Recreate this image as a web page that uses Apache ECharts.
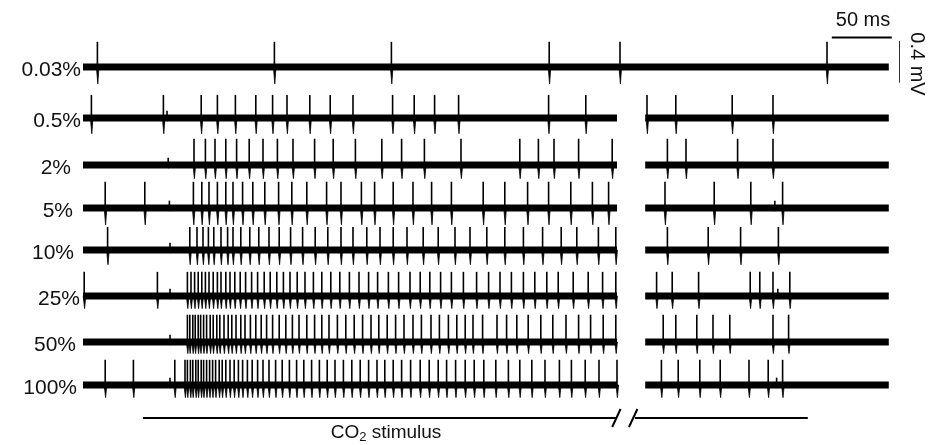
<!DOCTYPE html>
<html>
<head>
<meta charset="utf-8">
<script src="https://cdn.jsdelivr.net/npm/echarts@6/dist/echarts.min.js"></script>
<style>
  html, body { margin: 0; padding: 0; background: #fff; }
  #chart { width: 938px; height: 445px; }
</style>
</head>
<body>
<div id="chart"></div>
<script>
// CO2 concentration of each recording
const concentrations = ['0.03%', '0.5%', '2%', '5%', '10%', '25%', '50%', '100%'];

// Spike times (ms from start of sweep) for each concentration
const spikes_0_03 = [12, 159.5, 257, 388.5, 447.5, 620];
const spikes_0_5 = [7, 67, 98.5, 112, 127, 144, 158, 170, 189, 206, 225, 258, 276, 293, 313, 388, 419,
  470, 494, 541, 575];
const spikes_2 = [92.5, 102, 110, 119, 128, 138.5, 150, 162, 175, 193, 208.5, 227, 249, 265.5, 284.5, 315,
  364, 379.5, 392.5, 413, 441, 487, 502.5, 545.5, 575];
const spikes_5 = [18.5, 51.5, 92, 99, 105, 112, 119, 125, 133, 141.5, 151.5, 163, 174, 186.5, 203, 215, 232,
  243, 258.5, 275, 290.5, 307, 333.5, 351.5, 370.5, 388, 406.5, 424.5, 438, 485, 526, 556.5, 583];
const spikes_10 = [20.5, 89, 95, 100, 104.5, 109, 115, 120.5, 125, 131.5, 139, 146.5, 155, 163.5, 173, 183,
  193.5, 204, 215, 225, 236.5, 247.5, 258.5, 270, 283.5, 296, 310, 322.5, 336.5, 351.5, 367, 383, 398.5,
  411.5, 429.5, 444, 487, 521, 548, 579.5];
const spikes_25 = [1, 62, 87, 90, 93, 96, 99, 102, 105, 108.5, 112, 115, 119, 122.5, 126.5, 131, 135.5,
  140.5, 145.5, 151, 156, 161.5, 167, 172.5, 178.5, 185, 192, 199, 206.5, 214, 222, 230, 238, 245.5, 254.5,
  263, 272.5, 281, 289, 298, 307, 317, 328, 338, 347.5, 357, 367, 376.5, 386.5, 396, 408.5, 421, 433, 444,
  478, 491, 513, 556, 564, 575, 589];
const spikes_50 = [87, 89, 91.5, 93.5, 96, 98, 100.5, 103, 106, 108.5, 111.5, 114, 117.5, 121, 124, 127.5,
  131.5, 135, 139.5, 144, 148.5, 153, 158, 163.5, 169, 174.5, 180, 186.5, 193, 199, 205, 212, 219, 226, 233,
  240, 246.5, 253.5, 260.5, 267.5, 275, 282, 290, 297, 304.5, 311.5, 318.5, 325, 333, 345, 353, 361.5, 371,
  381.5, 391.5, 402.5, 413, 423, 433.5, 444, 483.5, 494, 511.5, 525, 539, 575, 588];
const spikes_100 = [18.5, 42, 76.5, 85, 87, 89.5, 91.5, 94, 96, 98.5, 100.5, 103, 105.5, 108, 110.5, 113.5,
  116, 119, 122.5, 126, 129.5, 133, 137, 141, 145.5, 150, 155, 160.5, 166, 172, 178, 184, 190.5, 197, 203.5,
  210, 217, 224, 231, 238, 245, 251.5, 258.5, 265.5, 273, 281, 288.5, 296, 303, 310.5, 318.5, 326, 334, 344,
  354.5, 364, 374, 385, 397, 407, 418.5, 430, 445, 482, 496, 514, 531, 555, 571, 583];
const spikeTimes = [spikes_0_03, spikes_0_5, spikes_2, spikes_5, spikes_10, spikes_25, spikes_50, spikes_100];

// Small (sub-threshold) deflections, ms
const smallDeflections = [[], [70], [71], [72, 576.5], [72.5], [72.5, 579], [72.5], [72.5, 578]];

// Typical spike amplitude above / below baseline for each recording, mV
const spikeUp = [0.24, 0.22, 0.25, 0.25, 0.22, 0.23, 0.26, 0.24];
const spikeDown = [0.16, 0.15, 0.13, 0.16, 0.14, 0.12, 0.11, 0.12];
const smallUp = 0.07;
const smallDown = 0.03;

// Recorded stretches of each sweep, ms (the others skip a stretch of the recording)
const fullSweep = [[0, 671.5]];
const splitSweep = [[0, 445], [468.5, 671.5]];
const sweeps = [fullSweep, splitSweep, splitSweep, splitSweep, splitSweep, splitSweep, splitSweep, splitSweep];

// CO2 stimulus bar, ms
const stimulusStart = 50;
const stimulusBreak = [441, 464];
const stimulusEnd = 604;

// Scale bars
const scaleTime = 50;   // ms
const scaleVolt = 0.4;  // mV

// ---- layout ----
const X0 = 83;            // px where t = 0
const PX_PER_MS = 1.2;
const PX_PER_MV = 105;
const T_MAX = 680;
const V_HALF = 0.3;
const rowCenters = [67, 118, 165, 208, 250, 296, 342, 385];
const labelRight = [81, 81, 71, 73, 74, 80, 76, 77];
const FONT = '"Liberation Sans", Arial, Helvetica, sans-serif';

const chart = echarts.init(document.getElementById('chart'), null, { renderer: 'canvas' });

const grids = [], xAxes = [], yAxes = [], series = [];
const plotW = T_MAX * PX_PER_MS;
const plotH = 2 * V_HALF * PX_PER_MV;

function spikeRender(params, api) {
  const t = api.value(0), up = api.value(1), dn = api.value(2);
  const top = api.coord([t, up]);
  const base = api.coord([t, 0]);
  const bot = api.coord([t, -dn]);
  return {
    type: 'group',
    children: [
      { type: 'line', shape: { x1: top[0], y1: top[1], x2: base[0], y2: base[1] },
        style: { stroke: '#000', lineWidth: 1.6 } },
      { type: 'polygon', shape: { points: [[base[0] - 1.0, base[1]], [base[0] + 1.6, base[1]], [bot[0] + 0.4, bot[1]]] },
        style: { fill: '#000', stroke: '#000', lineWidth: 0.8 } }
    ]
  };
}

concentrations.forEach((name, i) => {
  grids.push({ left: X0, top: rowCenters[i] - V_HALF * PX_PER_MV, width: plotW, height: plotH });
  xAxes.push({ gridIndex: i, type: 'value', min: 0, max: T_MAX, show: false });
  yAxes.push({ gridIndex: i, type: 'value', min: -V_HALF, max: V_HALF, show: false });

  sweeps[i].forEach(seg => {
    series.push({
      type: 'line', xAxisIndex: i, yAxisIndex: i, symbol: 'none', silent: true, clip: false,
      data: [[seg[0], 0], [seg[1], 0]],
      lineStyle: { color: '#000', width: 7, cap: 'butt' }
    });
  });

  const data = spikeTimes[i].map(t => [t, spikeUp[i], spikeDown[i]])
    .concat(smallDeflections[i].map(t => [t, smallUp, smallDown]));
  series.push({
    type: 'custom', xAxisIndex: i, yAxisIndex: i, silent: true, clip: false,
    renderItem: spikeRender, data: data
  });
});

// Scale bars drawn on the first sweep's axes
const barTop = 0.28;
series.push({
  type: 'line', xAxisIndex: 0, yAxisIndex: 0, symbol: 'none', silent: true, clip: false,
  data: [[624, barTop], [624 + scaleTime, barTop]],
  lineStyle: { color: '#000', width: 2, cap: 'butt' }
});
series.push({
  type: 'line', xAxisIndex: 0, yAxisIndex: 0, symbol: 'none', silent: true, clip: false,
  data: [[681, 0.25], [681, 0.25 - scaleVolt]],
  lineStyle: { color: '#000', width: 2, cap: 'butt' }
});

// Stimulus bar grid
const SI = concentrations.length;
grids.push({ left: X0, top: 408, width: plotW, height: 20 });
xAxes.push({ gridIndex: SI, type: 'value', min: 0, max: T_MAX, show: false });
yAxes.push({ gridIndex: SI, type: 'value', min: -1, max: 1, show: false });
[[stimulusStart, stimulusBreak[0] + 4], [stimulusBreak[1] - 4, stimulusEnd]].forEach(seg => {
  series.push({
    type: 'line', xAxisIndex: SI, yAxisIndex: SI, symbol: 'none', silent: true, clip: false,
    data: [[seg[0], 0], [seg[1], 0]],
    lineStyle: { color: '#000', width: 2, cap: 'butt' }
  });
});
[[stimulusBreak[0], stimulusBreak[0] + 7], [stimulusBreak[1] - 9, stimulusBreak[1] - 2]].forEach(s => {
  series.push({
    type: 'line', xAxisIndex: SI, yAxisIndex: SI, symbol: 'none', silent: true, clip: false,
    data: [[s[0], -0.9], [s[1], 0.9]],
    lineStyle: { color: '#000', width: 2, cap: 'butt' }
  });
});

const graphics = concentrations.map((name, i) => ({
  type: 'text', x: labelRight[i], y: rowCenters[i] + 3, silent: true,
  style: { text: name, fill: '#111', font: '21px ' + FONT, align: 'right', verticalAlign: 'middle' }
}));
graphics.push({
  type: 'text', x: 863, y: 20, silent: true,
  style: { text: '50 ms', fill: '#111', font: '20px ' + FONT, align: 'center', verticalAlign: 'middle' }
});
graphics.push({
  type: 'text', x: 917, y: 64, rotation: -Math.PI / 2, silent: true,
  style: { text: '0.4 mV', fill: '#111', font: '20px ' + FONT, align: 'center', verticalAlign: 'middle' }
});
graphics.push({
  type: 'text', x: 386, y: 433, silent: true,
  style: {
    text: '{a|CO}{s|2}{a| stimulus}',
    align: 'center', verticalAlign: 'middle',
    rich: {
      a: { font: '19px ' + FONT, fill: '#111' },
      s: { font: '13px ' + FONT, fill: '#111', padding: [9, 0, 0, 0] }
    }
  }
});

chart.setOption({
  animation: false,
  backgroundColor: '#fff',
  grid: grids,
  xAxis: xAxes,
  yAxis: yAxes,
  series: series,
  graphic: graphics
});
</script>
</body>
</html>
